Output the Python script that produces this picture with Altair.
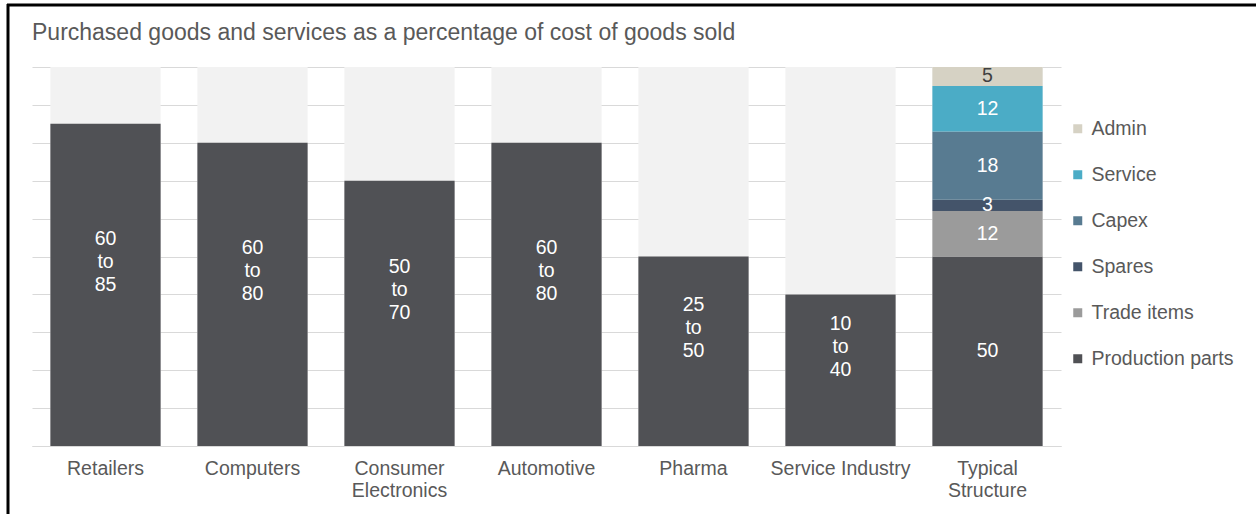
import altair as alt
import pandas as pd

FONT = "Liberation Sans"

categories = ["Retailers", "Computers", "Consumer Electronics", "Automotive",
              "Pharma", "Service Industry", "Typical Structure"]
industries = ["Retailers", "Computers", "Consumer Electronics", "Automotive",
              "Pharma", "Service Industry"]
low = [60, 60, 50, 60, 25, 10]
high = [85, 80, 70, 80, 50, 40]

components = ["Production parts", "Trade items", "Spares", "Capex", "Service", "Admin"]
comp_values = [50, 12, 3, 18, 12, 5]
comp_colors = ["#505155", "#9b9b9b", "#44546a", "#587b91", "#4bacc6", "#d6d2c4"]
comp_text_colors = ["#ffffff", "#ffffff", "#ffffff", "#ffffff", "#ffffff", "#404040"]

grid_values = list(range(0, 101, 10))

bg_df = pd.DataFrame({"category": categories, "value": [100] * len(categories)})
ind_df = pd.DataFrame({"category": industries, "low": low, "high": high})
ind_df["label"] = [f"{a}\nto\n{b}" for a, b in zip(low, high)]
ind_df["mid"] = ind_df["high"] / 2

typ_df = pd.DataFrame({"component": components, "value": comp_values,
                       "rank": list(range(len(components))),
                       "tcolor": comp_text_colors})
typ_df["category"] = "Typical Structure"
typ_df["top"] = typ_df["value"].cumsum()
typ_df["mid"] = typ_df["top"] - typ_df["value"] / 2

x_axis = alt.Axis(labelExpr="datum.value == 'Consumer Electronics' ? ['Consumer', 'Electronics'] : datum.value == 'Typical Structure' ? ['Typical', 'Structure'] : datum.value",
                  labelFontSize=19.5, labelColor="#595959", labelFont=FONT,
                  ticks=False, domain=True, domainColor="#d9d9d9", grid=False,
                  labelPadding=13, labelLineHeight=22, labelAngle=0, title=None)
x_scale = alt.Scale(domain=categories, paddingInner=0.25, paddingOuter=0.125)
y_scale = alt.Scale(domain=[0, 100], nice=False)
y_axis = alt.Axis(title=None, labels=False, ticks=False, domain=False,
                  grid=True, gridColor="#d9d9d9", gridWidth=1,
                  values=grid_values)


def xe():
    return alt.X("category:N", sort=categories, scale=x_scale, axis=x_axis, title=None)


bg = alt.Chart(bg_df).mark_bar(color="#f2f2f2").encode(
    x=xe(), y=alt.Y("value:Q", scale=y_scale, axis=y_axis, title=None))

ind_bars = alt.Chart(ind_df).mark_bar(color="#505155").encode(
    x=xe(), y=alt.Y("high:Q", scale=y_scale, axis=y_axis, title=None))

ind_text = alt.Chart(ind_df).mark_text(
    color="white", fontSize=19.5, font=FONT, lineBreak="\n", lineHeight=23,
    baseline="middle", dy=-46).encode(
    x=xe(), y=alt.Y("mid:Q", scale=y_scale, axis=y_axis, title=None), text="label:N")

typ_bars = alt.Chart(typ_df).mark_bar().encode(
    x=xe(),
    y=alt.Y("value:Q", stack="zero", scale=y_scale, axis=y_axis, title=None),
    order=alt.Order("rank:Q"),
    color=alt.Color("component:N",
                    scale=alt.Scale(domain=components[::-1], range=comp_colors[::-1]),
                    legend=alt.Legend(orient="none", legendX=1036, legendY=52, title=None,
                                      symbolType="square", symbolSize=81,
                                      symbolStrokeWidth=0, labelFontSize=19.5,
                                      labelColor="#595959", labelFont=FONT,
                                      rowPadding=25, labelOffset=4, padding=0)))

typ_text = alt.Chart(typ_df).mark_text(fontSize=19.5, font=FONT, baseline="middle").encode(
    x=xe(), y=alt.Y("mid:Q", scale=y_scale, axis=y_axis, title=None),
    text="value:Q", color=alt.Color("tcolor:N", scale=None))

frame_df = pd.DataFrame({"k": [0]})
frame_top = alt.Chart(frame_df).mark_rule(color="black", strokeWidth=3).encode(
    x=alt.value(-25), x2=alt.value(1230), y=alt.value(-62))
frame_left = alt.Chart(frame_df).mark_rule(color="black", strokeWidth=3).encode(
    x=alt.value(-24), y=alt.value(-63), y2=alt.value(460))

chart = alt.layer(bg, ind_bars, ind_text, typ_bars, typ_text, frame_top, frame_left).properties(
    width=1029, height=379,
    background="white",
    title=alt.Title("Purchased goods and services as a percentage of cost of goods sold",
                    anchor="start", frame="group", fontSize=23, color="#595959", font=FONT,
                    fontWeight="normal", offset=-42),
    autosize=alt.AutoSizeParams(type="none"),
    padding={"left": 32, "top": 67, "right": 195, "bottom": 68},
).configure_view(strokeWidth=0)

chart.save("out.html", embed_options={"renderer": "svg", "actions": False})
